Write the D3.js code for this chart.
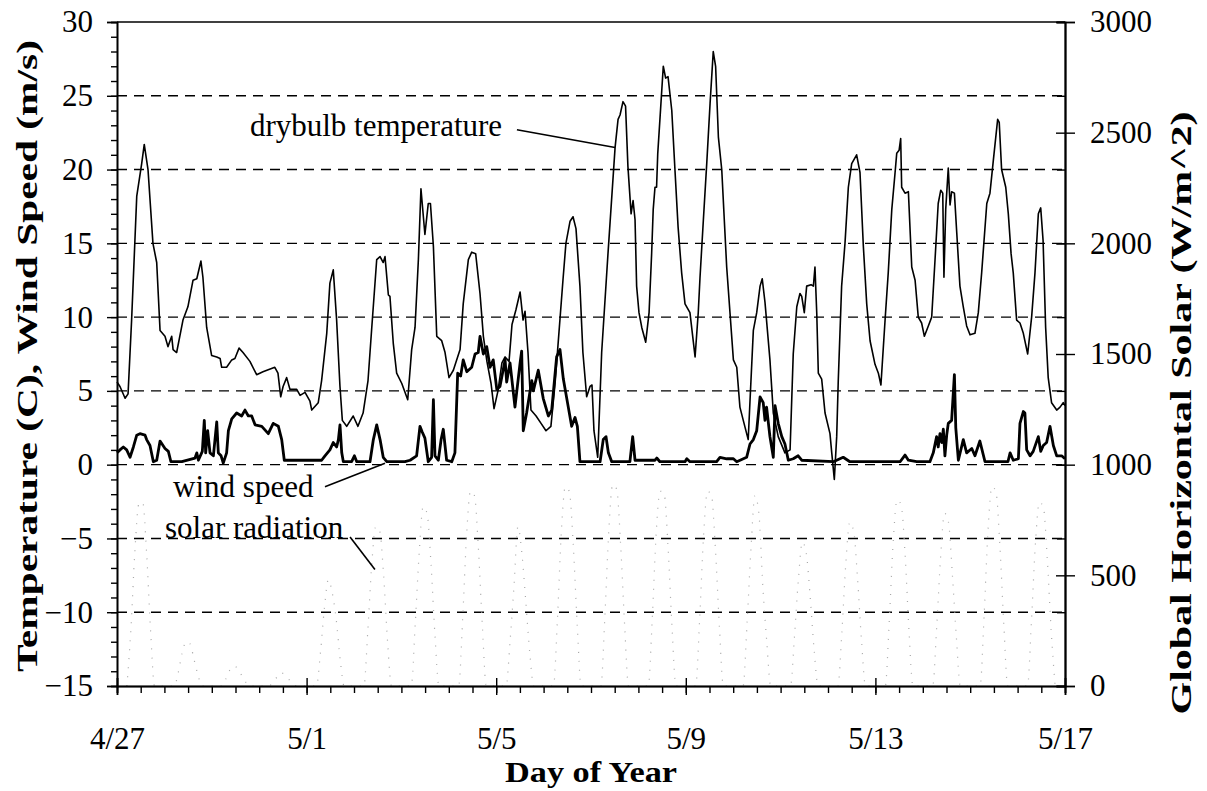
<!DOCTYPE html>
<html>
<head>
<meta charset="utf-8">
<script src="https://cdn.jsdelivr.net/npm/d3@7"></script>
<style>
  html, body { margin: 0; padding: 0; background: #fff; }
  svg { display: block; font-family: "Liberation Serif", "Times New Roman", serif; }
</style>
</head>
<body>
<svg id="chart" width="1207" height="791"></svg>
<script>
// ---------- DATA (hours since 4/27 00:00) ----------
const xTickHours = [0, 96, 192, 288, 384, 480];
const xTickLabels = ["4/27", "5/1", "5/5", "5/9", "5/13", "5/17"];
const leftTicks = [-15, -10, -5, 0, 5, 10, 15, 20, 25, 30];
const rightTicks = [0, 500, 1000, 1500, 2000, 2500, 3000];

const tempHours = [0,1.5,4.1,5.6,7.4,10.0,12.5,13.8,15.7,18.2,20.1,21.8,24.3,25.8,27.7,28.4,30.2,33.4,35.9,38.5,40.4,42.5,43.5,45.4,47.9,50.5,52.2,53.0,55.5,58.1,59.7,61.8,63.8,67.3,70.7,73.9,79.9,81.5,82.9,84.1,85.9,87.6,91.0,92.7,95.2,97.7,98.6,101.9,103.6,106.2,107.8,109.5,111.2,112.9,114.1,116.3,119.6,122.0,124.6,127.1,129.0,131.5,133.2,134.8,135.7,137.4,138.2,139.9,141.6,144.2,147.2,149.2,150.9,152.6,153.9,155.9,157.6,158.7,160.2,161.9,164.4,166.1,168.1,170.3,173.7,175.3,177.9,179.6,181.6,183.8,185.5,187.3,189.4,190.9,192.9,194.9,196.5,198.5,200.0,202.0,204.1,205.6,206.6,208.1,209.6,212.2,214.7,217.2,219.7,221.8,223.8,225.8,227.3,229.4,230.9,232.4,234.4,235.9,237.8,239.5,240.5,241.5,243.4,245.4,248.6,252.2,253.7,254.7,256.2,257.5,258.7,260.3,261.3,262.3,263.1,264.3,265.7,267.7,269.4,270.7,271.5,272.4,273.2,273.8,274.9,276.6,277.8,279.0,280.9,282.5,284.1,285.9,287.6,290.1,292.7,294.3,295.2,296.9,298.6,300.3,301.9,303.1,304.5,306.2,308.7,312.1,313.8,315.4,317.1,319.6,320.5,322.2,323.9,325.6,326.7,328.1,330.6,332.3,334.8,338.2,340.8,342.4,344.2,345.8,346.7,348.0,349.2,351.4,352.6,353.4,354.3,355.1,356.8,358.5,361.0,361.9,363.2,364.4,365.2,366.9,368.6,370.3,372.0,374.5,376.2,377.9,379.6,381.3,383.8,385.5,386.8,388.9,390.5,392.3,393.9,394.8,396.0,396.8,397.3,399.0,400.7,402.4,404.1,405.7,407.4,408.8,410.8,412.5,414.2,415.8,417.1,418.1,418.7,419.6,420.9,421.8,422.6,424.0,425.2,426.8,428.5,430.2,431.9,434.4,436.1,437.8,440.4,442.0,443.7,445.9,446.7,447.9,450.0,451.3,452.7,453.8,455.5,457.2,458.9,461.1,463.1,464.8,466.5,467.7,468.9,470.2,471.5,473.2,475.8,477.5,479.1,480.0];
const tempValues = [5.6,5.3,4.5,4.8,9.8,18.2,20.4,21.7,20.0,15.0,13.7,9.1,8.7,8.0,8.7,7.8,7.6,9.8,10.7,12.5,12.6,13.8,12.7,9.3,7.4,7.3,7.2,6.6,6.6,7.1,7.2,7.9,7.6,7.0,6.1,6.3,6.6,6.2,4.6,5.3,5.9,5.1,5.1,4.7,4.9,4.3,3.7,4.2,5.7,8.9,12.3,13.2,9.8,5.3,3.0,2.6,3.3,2.6,3.5,5.7,9.3,13.9,14.1,13.7,14.1,11.5,11.4,8.2,6.2,5.5,4.4,7.8,9.3,13.9,18.7,15.6,17.7,17.7,14.8,8.7,8.4,7.6,5.9,6.4,7.8,10.9,13.9,14.4,14.3,11.6,8.7,7.0,5.5,3.8,5.0,6.9,7.3,7.0,9.5,10.5,11.7,9.8,10.4,7.6,3.7,3.3,2.8,2.3,2.6,5.5,9.0,12.5,15.0,16.5,16.8,16.0,12.1,7.6,4.6,5.3,5.4,2.3,0.5,7.6,14.3,21.5,23.4,23.7,24.6,24.3,20.2,17.0,17.9,16.6,12.1,10.3,9.3,8.3,10.3,14.3,17.3,18.8,18.8,21.1,23.4,27.0,26.2,26.3,24.0,20.0,16.1,13.0,10.9,10.3,7.3,10.3,12.7,16.6,20.4,24.5,28.0,27.0,22.2,20.0,13.4,7.1,6.6,3.9,3.0,1.7,4.3,9.1,10.3,12.1,12.6,11.0,7.1,3.5,1.9,0.8,1.0,7.5,10.7,11.6,11.4,10.3,12.1,12.2,12.1,13.4,10.3,6.2,5.8,3.5,2.1,0.8,-1.0,1.9,5.7,12.1,15.0,18.8,20.4,21.0,19.8,14.8,10.9,8.4,6.8,6.2,5.4,9.8,13.0,17.3,19.7,21.1,21.3,22.1,18.8,18.4,18.5,13.4,12.5,10.0,9.6,8.7,9.4,10.0,13.9,17.7,18.6,18.4,12.7,17.3,20.1,17.6,18.5,18.4,15.7,12.1,10.7,9.4,8.8,8.9,10.3,13.0,17.7,18.4,20.6,23.4,23.2,20.0,18.8,17.0,14.3,13.0,9.8,9.6,8.9,7.5,10.0,13.0,17.0,17.4,15.2,9.3,5.9,4.2,3.7,3.9,4.2,4.0];

const windHours = [0,1.5,3.2,4.9,6.6,8.3,10.0,11.6,14.2,15.0,16.7,18.4,20.1,21.8,24.3,26.0,27.3,32.8,39.5,40.4,41.2,43.2,44.2,44.9,45.9,47.1,48.8,50.5,51.3,52.7,53.8,55.5,56.4,58.1,60.6,63.1,64.8,66.5,68.2,69.9,73.3,76.6,79.1,81.7,83.4,84.7,87.6,103.6,105.3,107.8,109.5,111.2,112.1,112.9,113.8,114.6,118.8,120.2,121.4,128.1,129.8,131.5,133.2,134.8,136.6,145.8,148.4,151.7,153.4,154.6,155.9,157.6,159.3,160.2,161.0,162.7,164.1,165.2,166.9,169.5,171.1,172.5,174.0,175.3,177.1,179.6,181.3,182.9,183.8,185.5,187.2,188.9,190.5,192.3,193.9,196.5,197.3,199.0,201.5,204.1,204.9,205.7,207.4,210.0,210.8,213.3,215.8,218.4,220.1,222.6,224.3,226.0,228.5,230.2,231.9,233.1,234.4,244.6,246.2,247.6,248.8,250.5,259.7,261.1,262.3,272.4,273.3,274.9,287.6,288.5,290.1,303.6,305.3,308.7,312.1,313.8,318.8,320.5,322.2,323.9,325.6,327.2,328.1,328.9,330.6,332.3,333.2,334.8,336.6,338.2,339.9,342.4,344.9,346.7,362.7,367.7,371.1,396.5,399.0,400.7,404.9,406.6,411.6,413.3,415.0,415.8,416.7,417.6,418.4,419.2,420.1,420.9,422.6,424.0,424.7,426.0,428.5,430.2,432.8,434.4,436.9,439.5,451.1,452.2,453.8,456.4,457.2,458.9,459.7,460.6,462.3,463.9,466.5,467.7,469.0,470.7,472.4,474.1,475.8,478.3,480.0];
const windValues = [0.8,1.0,1.2,1.0,0.5,1.2,2.0,2.1,2.0,1.7,1.3,0.2,0.3,1.6,1.1,0.9,0.2,0.2,0.45,0.8,0.3,0.9,3.0,0.8,2.3,0.8,0.6,2.9,0.8,0.6,0.1,0.8,2.3,3.1,3.5,3.3,3.7,3.3,3.3,2.7,2.6,2.1,2.8,2.6,1.7,0.3,0.3,0.3,0.6,1.0,1.5,1.2,1.7,2.7,0.8,0.2,0.2,0.6,0.2,0.2,1.7,2.7,1.7,0.5,0.2,0.2,0.3,0.6,2.6,2.2,1.8,0.2,0.5,4.4,0.6,0.3,1.7,2.4,0.3,0.2,0.8,6.2,6.0,7.1,6.3,6.6,7.5,7.6,8.7,7.5,8.0,6.6,7.1,5.1,5.3,7.1,5.6,6.9,3.9,6.9,7.7,2.3,3.5,5.7,5.0,6.4,4.5,3.3,3.7,7.3,7.8,5.8,3.9,2.6,3.2,2.6,0.2,0.2,1.7,1.9,0.8,0.2,0.2,1.9,0.3,0.3,0.45,0.2,0.2,0.4,0.2,0.2,0.5,0.4,0.4,0.2,0.5,1.4,1.7,2.3,4.6,4.2,3.0,3.9,1.9,0.5,4.0,2.8,1.9,1.4,0.3,0.4,0.6,0.3,0.2,0.5,0.2,0.2,0.65,0.3,0.2,0.2,0.2,0.8,1.9,1.2,2.1,1.5,2.4,0.6,2.0,2.8,3.0,6.1,2.5,0.3,1.7,0.8,1.1,0.6,1.6,0.2,0.2,0.8,0.3,0.4,2.8,3.6,3.5,1.0,0.6,0.9,1.9,0.9,1.3,1.5,2.6,1.3,0.6,0.6,0.4];

// Global horizontal solar (W/m^2), sampled at these hours of each day
const solarHoursOfDay = [5, 7, 9, 11, 13, 15, 17, 19];
const solarByDay = [
  [0, 250, 600, 820, 830, 600, 250, 0],
  [0, 60, 150, 200, 190, 120, 50, 0],
  [0, 30, 70, 90, 80, 50, 20, 0],
  [0, 20, 40, 60, 50, 30, 10, 0],
  [0, 150, 350, 480, 420, 300, 120, 0],
  [0, 250, 550, 720, 700, 500, 200, 0],
  [0, 280, 600, 810, 780, 550, 230, 0],
  [0, 300, 680, 880, 860, 620, 270, 0],
  [0, 200, 450, 720, 600, 380, 150, 0],
  [0, 300, 700, 900, 880, 640, 280, 0],
  [0, 310, 700, 910, 890, 640, 280, 0],
  [0, 300, 690, 880, 870, 630, 270, 0],
  [0, 300, 680, 880, 860, 620, 270, 0],
  [0, 280, 620, 860, 780, 450, 200, 0],
  [0, 220, 480, 650, 600, 400, 160, 0],
  [0, 240, 550, 740, 700, 480, 200, 0],
  [0, 290, 650, 840, 820, 600, 250, 0],
  [0, 260, 580, 780, 740, 500, 220, 0],
  [0, 310, 700, 900, 880, 640, 280, 0],
  [0, 290, 640, 830, 810, 580, 250, 0]
];

// ---------- LAYOUT ----------
const svg = d3.select("#chart");
const L = 117, R = 1065, T = 22, B = 686;
const x = d3.scaleLinear().domain([0, 480]).range([L, R]);
const yL = d3.scaleLinear().domain([-15, 30]).range([B, T]);
const yR = d3.scaleLinear().domain([0, 3000]).range([B, T]);
const FS = 31;

// grid lines (dashed) at 5 deg intervals
svg.append("g").selectAll("line")
  .data(leftTicks.filter(v => v > -15 && v < 30))
  .join("line")
  .attr("x1", L).attr("x2", R)
  .attr("y1", d => yL(d)).attr("y2", d => yL(d))
  .attr("stroke", "#000").attr("stroke-width", 1.4)
  .attr("stroke-dasharray", "10,7");

// top border
svg.append("line").attr("x1", L).attr("x2", R).attr("y1", T).attr("y2", T)
  .attr("stroke", "#000").attr("stroke-width", 1.6);

// solar radiation (faint dotted)
const solarPts = [];
solarByDay.forEach((vals, d) => {
  vals.forEach((v, i) => solarPts.push([d * 24 + solarHoursOfDay[i], v]));
});
svg.append("path")
  .datum(solarPts)
  .attr("fill", "none")
  .attr("stroke", "#a8a8a8")
  .attr("stroke-width", 1.2)
  .attr("stroke-dasharray", "1,8")
  .attr("d", d3.line().x(d => x(d[0])).y(d => yR(d[1])).curve(d3.curveMonotoneX));

// wind speed (thick)
svg.append("path")
  .datum(windHours.map((h, i) => [h, windValues[i]]))
  .attr("fill", "none").attr("stroke", "#000")
  .attr("stroke-width", 2.8).attr("stroke-linejoin", "round")
  .attr("d", d3.line().x(d => x(d[0])).y(d => yL(d[1])));

// drybulb temperature (thin)
svg.append("path")
  .datum(tempHours.map((h, i) => [h, tempValues[i]]))
  .attr("fill", "none").attr("stroke", "#000")
  .attr("stroke-width", 1.6).attr("stroke-linejoin", "round")
  .attr("d", d3.line().x(d => x(d[0])).y(d => yL(d[1])));

// ---------- AXES ----------
function styleAxis(g) {
  g.select(".domain").attr("stroke", "#000").attr("stroke-width", 1.6);
  g.selectAll(".tick line").attr("stroke", "#000").attr("stroke-width", 1.4);
  g.selectAll("text").attr("font-family", "Liberation Serif, Times New Roman, serif")
    .attr("font-size", FS).attr("fill", "#000");
}

// left axis: minor ticks every 1
svg.append("g").attr("transform", `translate(${L},0)`)
  .call(d3.axisLeft(yL).tickValues(d3.range(-15, 31, 1)).tickSize(6).tickFormat(""))
  .call(styleAxis);
// left axis major with labels
svg.append("g").attr("transform", `translate(${L},0)`)
  .call(d3.axisLeft(yL).tickValues(leftTicks).tickSize(10).tickPadding(14).tickFormat(d3.format("d")))
  .call(styleAxis);

// right axis
svg.append("g").attr("transform", `translate(${R},0)`)
  .call(d3.axisRight(yR).tickValues(rightTicks).tickSize(10).tickPadding(15).tickFormat(d3.format("d")))
  .call(styleAxis);
svg.append("g").attr("transform", `translate(${R},0)`)
  .call(d3.axisLeft(yR).tickValues(rightTicks).tickSize(9).tickFormat(""))
  .call(styleAxis);
svg.append("g").attr("transform", `translate(${R},0)`)
  .call(d3.axisLeft(yL).tickValues(leftTicks).tickSize(8).tickFormat(""))
  .call(styleAxis);

// bottom axis: minor ticks every 12 h
svg.append("g").attr("transform", `translate(0,${B})`)
  .call(d3.axisBottom(x).tickValues(d3.range(0, 481, 12)).tickSize(7).tickFormat(""))
  .call(styleAxis);
svg.append("g").attr("transform", `translate(0,${B})`)
  .call(d3.axisTop(x).tickValues(xTickHours).tickSize(8).tickFormat(""))
  .call(styleAxis);
svg.append("g").attr("transform", `translate(0,${B})`)
  .call(d3.axisBottom(x).tickValues(xTickHours).tickSize(9).tickPadding(32)
    .tickFormat((d, i) => xTickLabels[i]))
  .call(styleAxis);

// axis titles
svg.append("text")
  .attr("x", 591).attr("y", 782)
  .attr("text-anchor", "middle").attr("font-weight", "bold").attr("font-size", 30)
  .attr("textLength", 172).attr("lengthAdjust", "spacingAndGlyphs")
  .text("Day of Year");
svg.append("text")
  .attr("transform", `translate(37,356) rotate(-90)`)
  .attr("text-anchor", "middle").attr("font-weight", "bold").attr("font-size", 30)
  .attr("textLength", 632).attr("lengthAdjust", "spacingAndGlyphs")
  .text("Temperature (C), Wind Speed (m/s)");
svg.append("text")
  .attr("transform", `translate(1191,413) rotate(-90)`)
  .attr("text-anchor", "middle").attr("font-weight", "bold").attr("font-size", 30)
  .attr("textLength", 603).attr("lengthAdjust", "spacingAndGlyphs")
  .text("Global Horizontal Solar (W/m^2)");

// ---------- ANNOTATIONS (anchored in data units) ----------
const notes = [
  { text: "drybulb temperature", h: 67.3, v: 22.3, from: [202.5, 22.7], to: [252.2, 21.5] },
  { text: "wind speed", h: 28.4, v: -2.2, from: [105.3, -1.5], to: [135.7, 0.1] },
  { text: "solar radiation", h: 24.3, v: -5.0, from: [118.0, -4.9], to: [130.6, -7.1] }
];
notes.forEach(n => {
  svg.append("text").attr("x", x(n.h)).attr("y", yL(n.v))
    .attr("font-size", FS).attr("fill", "#000").text(n.text);
  svg.append("line")
    .attr("x1", x(n.from[0])).attr("y1", yL(n.from[1]))
    .attr("x2", x(n.to[0])).attr("y2", yL(n.to[1]))
    .attr("stroke", "#000").attr("stroke-width", 1.6);
});
</script>
</body>
</html>
